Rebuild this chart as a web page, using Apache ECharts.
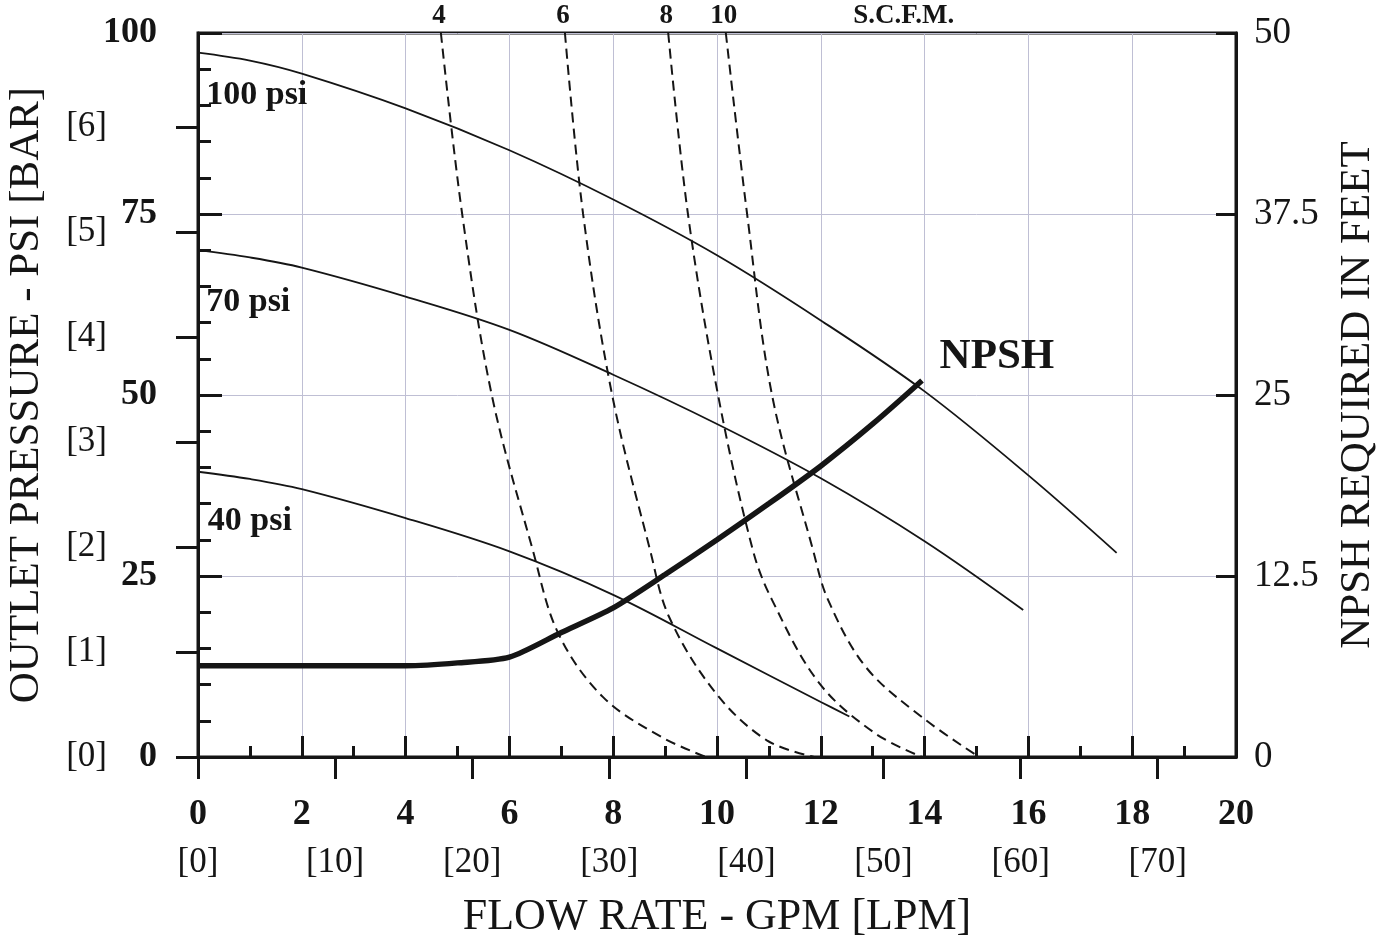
<!DOCTYPE html>
<html>
<head>
<meta charset="utf-8">
<script src="https://cdn.jsdelivr.net/npm/echarts@6/dist/echarts.min.js"></script>
<style>
  html, body { margin: 0; padding: 0; background: #ffffff; }
  #chart { width: 1387px; height: 943px; }
</style>
</head>
<body>
<div id="chart"></div>
<script>
// Pump performance: outlet pressure vs flow at three inlet air pressures,
// air consumption (S.C.F.M.) contours, and NPSH required.

// Outlet pressure curves [GPM, PSI]
const psi100 = [[0, 97.3], [1, 96.2], [2, 94.4], [4, 89.6], [6, 83.8], [8, 77.0], [10, 69.3], [12, 60.3], [14, 50.5], [16, 38.9], [17.7, 28.2]];
const psi70  = [[0, 70.0], [1, 69.0], [2, 67.6], [4, 63.6], [6, 59.0], [8, 52.8], [10, 46.0], [12, 38.5], [14, 29.8], [15.9, 20.3]];
const psi40  = [[0, 39.4], [1, 38.4], [2, 37.0], [4, 33.0], [6, 28.4], [8, 22.4], [10, 15.0], [12, 7.6], [12.55, 5.6]];

// NPSH required [GPM, feet]
const npshFeet = [[0, 6.3], [2, 6.3], [4, 6.3], [5, 6.5], [6, 6.9], [7, 8.6], [8, 10.3], [9, 12.6], [10, 15.0], [11, 17.5], [12, 20.1], [13, 23.0], [13.95, 26.0]];

// Air consumption contours [GPM, PSI]
const scfm4  = [[4.68, 100], [5.09, 75], [5.66, 50], [6.45, 28.6], [6.94, 17.1], [7.80, 8.3], [8.92, 2.8], [9.79, 0]];
const scfm6  = [[7.07, 100], [7.42, 75], [7.98, 50], [8.71, 28.6], [9.08, 19.3], [9.98, 8.8], [10.96, 2.3], [11.87, 0]];
const scfm8  = [[9.06, 100], [9.44, 75], [10.02, 50], [10.69, 28.6], [11.06, 21.7], [11.97, 10.2], [13.04, 3.3], [13.95, 0]];
const scfm10 = [[10.17, 100], [10.58, 75], [11.06, 50], [11.85, 28.6], [12.14, 21.7], [12.87, 12.4], [13.95, 5.5], [15.05, 0]];
const scfmNames = ['4', '6', '8', '10'];

// Secondary unit ticks
const barTicks = [0, 1, 2, 3, 4, 5, 6];
const lpmTicks = [0, 10, 20, 30, 40, 50, 60, 70];
const PSI_PER_BAR = 14.5038;
const LPM_PER_GPM = 3.78541;

const FONT = '"Liberation Serif", "Times New Roman", serif';
const INK = '#151515';
const GRID = '#bfbfd4';

const chart = echarts.init(document.getElementById('chart'), null, { renderer: 'canvas' });

function curve(name, data, yIdx, width, dashed, extra) {
  return Object.assign({
    name: name,
    type: 'line',
    xAxisIndex: 0,
    yAxisIndex: yIdx,
    data: data,
    smooth: 0.35,
    symbol: 'none',
    silent: true,
    lineStyle: { color: INK, width: width, type: dashed ? [10, 6] : 'solid' }
  }, extra || {});
}

function textMark(coord, text, position, size, weight, offset) {
  return {
    coord: coord,
    symbol: 'circle',
    symbolSize: 0,
    label: {
      show: true,
      formatter: text,
      position: position,
      distance: 2,
      offset: offset || [0, 0],
      color: INK,
      fontFamily: FONT,
      fontSize: size,
      fontWeight: weight
    }
  };
}

function scfmSeries(data, label, extraMarks) {
  const marks = [textMark(data[0], label, 'top', 27, 'bold', [-2, -1])].concat(extraMarks || []);
  return curve('SCFM ' + label, data, 0, 2, true, {
    markPoint: { silent: true, animation: false, data: marks }
  });
}

const option = {
  animation: false,
  backgroundColor: '#ffffff',
  grid: {
    left: 198, right: 151, top: 33, bottom: 186,
    outerBoundsMode: 'none',
    containLabel: false,
    show: true, borderColor: INK, borderWidth: 3, backgroundColor: 'transparent'
  },
  xAxis: [
    {
      type: 'value', min: 0, max: 20, interval: 2, position: 'bottom',
      axisLine: { show: true, lineStyle: { color: INK, width: 3 } },
      axisTick: { show: true, inside: true, length: 21, lineStyle: { color: INK, width: 3 } },
      minorTick: { show: true, splitNumber: 2, length: 11, lineStyle: { color: INK, width: 3 } },
      splitLine: { show: true, lineStyle: { color: GRID, width: 1 } },
      axisLabel: { margin: 40, color: INK, fontFamily: FONT, fontSize: 36, fontWeight: 'bold' }
    },
    {
      type: 'value', min: 0, max: 20 * LPM_PER_GPM, position: 'bottom',
      axisLine: { show: false },
      axisTick: { show: true, inside: false, length: 22, customValues: lpmTicks, lineStyle: { color: INK, width: 3 } },
      splitLine: { show: false },
      axisLabel: { margin: 88, customValues: lpmTicks, formatter: v => '[' + v + ']', color: INK, fontFamily: FONT, fontSize: 35 },
      name: 'FLOW RATE - GPM [LPM]', nameLocation: 'middle', nameGap: 138,
      nameTextStyle: { color: INK, fontFamily: FONT, fontSize: 44 }
    }
  ],
  yAxis: [
    {
      type: 'value', min: 0, max: 100, interval: 25, position: 'left',
      axisLine: { show: true, lineStyle: { color: INK, width: 3 } },
      axisTick: { show: true, inside: true, length: 24, lineStyle: { color: INK, width: 3 } },
      minorTick: { show: true, splitNumber: 5, length: 13, lineStyle: { color: INK, width: 3 } },
      splitLine: { show: true, lineStyle: { color: GRID, width: 1 } },
      axisLabel: { margin: 41, color: INK, fontFamily: FONT, fontSize: 36, fontWeight: 'bold' },
      name: 'OUTLET PRESSURE - PSI [BAR]', nameLocation: 'middle', nameGap: 150, nameRotate: 90,
      nameTextStyle: { color: INK, fontFamily: FONT, fontSize: 43 }
    },
    {
      type: 'value', min: 0, max: 100 / PSI_PER_BAR, position: 'left',
      axisLine: { show: false },
      axisTick: { show: true, inside: false, length: 22, customValues: barTicks, lineStyle: { color: INK, width: 3 } },
      splitLine: { show: false },
      axisLabel: { margin: 91, customValues: barTicks, formatter: v => '[' + v + ']', color: INK, fontFamily: FONT, fontSize: 35 }
    },
    {
      type: 'value', min: 0, max: 50, interval: 12.5, position: 'right',
      axisLine: { show: true, lineStyle: { color: INK, width: 3 } },
      axisTick: { show: true, inside: true, length: 20, lineStyle: { color: INK, width: 3 } },
      splitLine: { show: false },
      axisLabel: { margin: 18, color: INK, fontFamily: FONT, fontSize: 37 },
      name: 'NPSH REQUIRED IN FEET', nameLocation: 'middle', nameGap: 100, nameRotate: 90,
      nameTextStyle: { color: INK, fontFamily: FONT, fontSize: 43 }
    }
  ],
  series: [
    curve('100 psi', psi100, 0, 1.8, false, {
      markPoint: { silent: true, animation: false, data: [textMark([0.12, 91.4], '100 psi', 'right', 34, 'bold')] }
    }),
    curve('70 psi', psi70, 0, 1.8, false, {
      markPoint: { silent: true, animation: false, data: [textMark([0.12, 62.8], '70 psi', 'right', 34, 'bold')] }
    }),
    curve('40 psi', psi40, 0, 1.8, false, {
      markPoint: { silent: true, animation: false, data: [textMark([0.15, 32.6], '40 psi', 'right', 34, 'bold')] }
    }),
    scfmSeries(scfm4, scfmNames[0]),
    scfmSeries(scfm6, scfmNames[1]),
    scfmSeries(scfm8, scfmNames[2]),
    scfmSeries(scfm10, scfmNames[3], [textMark([13.6, 100], 'S.C.F.M.', 'top', 27, 'bold', [0, -1])]),
    curve('NPSH', npshFeet, 2, 5.5, false, {
      smooth: 0.25,
      markPoint: { silent: true, animation: false, data: [textMark([14.25, 27.6], 'NPSH', 'right', 43, 'bold')] }
    })
  ]
};

chart.setOption(option);
</script>
</body>
</html>
